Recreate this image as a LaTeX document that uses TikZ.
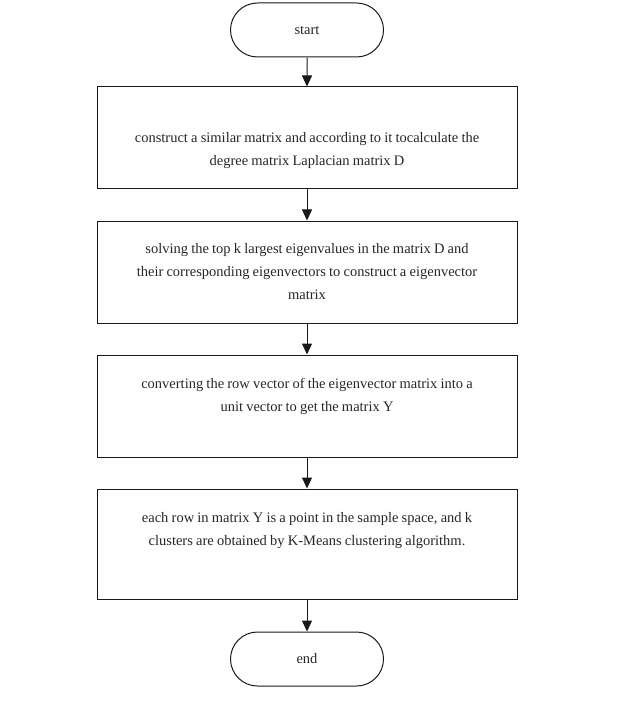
\documentclass[tikz,border=0pt]{standalone}
\usepackage{fontspec}
\setmainfont{Liberation Serif}
\usetikzlibrary{arrows.meta,shapes.misc}
\newcommand{\boxfont}{\fontsize{14.5}{23}\selectfont\fontdimen2\font=0.22em}
\tikzset{
  term/.style={draw=black!90, line width=1pt, rounded rectangle, minimum width=153pt, minimum height=54pt, inner sep=0pt, font=\boxfont, text=black!85},
  proc/.style={draw=black!90, line width=1pt, rectangle, minimum width=420pt, inner sep=0pt},
  ptext/.style={align=center, inner sep=0pt, font=\boxfont, text=black!85},
  conn/.style={draw=black!90, line width=1pt, -{Triangle[length=11pt,width=10pt]}}
}
\begin{document}
\begin{tikzpicture}[x=1pt,y=-1pt]
\useasboundingbox (0,0) rectangle (616,727);
\node[term] (start) at (307,30) {start};
\node[proc, minimum height=102pt] (b1) at (307,138) {};
\node[proc, minimum height=102pt] (b2) at (307,272) {};
\node[proc, minimum height=102pt] (b3) at (307,406) {};
\node[proc, minimum height=110pt] (b4) at (307,544) {};
\node[ptext] (t1) at ([yshift=-13pt]b1.center) {construct a similar matrix and according to it tocalculate the\\degree matrix Laplacian matrix D};
\node[ptext] (t2) at (b2.center) {solving the top k largest eigenvalues in the matrix D and\\their corresponding eigenvectors to construct a eigenvector\\matrix};
\node[ptext] (t3) at ([yshift=10pt]b3.center) {converting the row vector of the eigenvector matrix into a\\unit vector to get the matrix Y};
\node[ptext] (t4) at ([yshift=13pt]b4.center) {each row in matrix Y is a point in the sample space, and k\\clusters are obtained by K-Means clustering algorithm.};
\node[term] (end) at (307,659) {end};
\draw[conn] (start) -- (b1);
\draw[conn] (b1) -- (b2);
\draw[conn] (b2) -- (b3);
\draw[conn] (b3) -- (b4);
\draw[conn] (b4) -- (end);
\end{tikzpicture}
\end{document}
